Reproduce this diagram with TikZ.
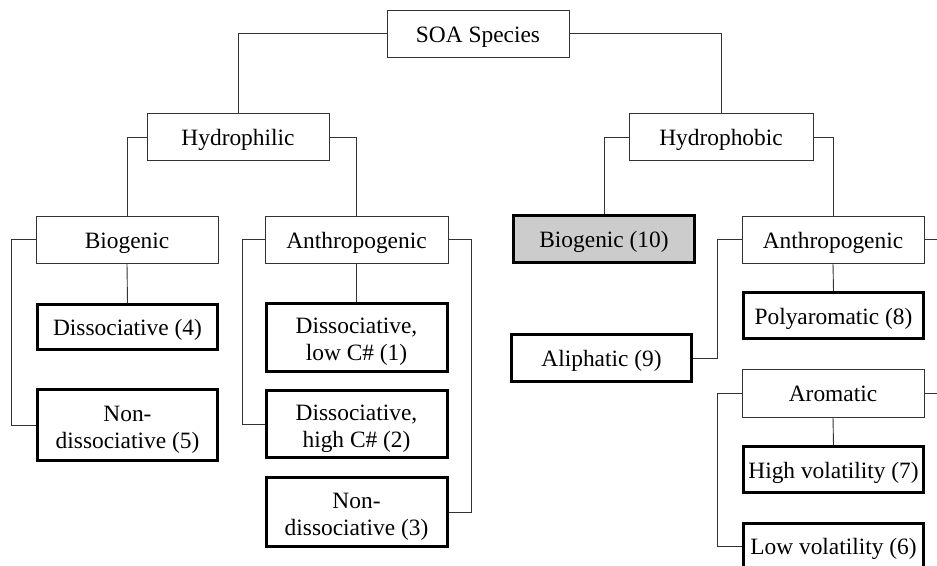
\documentclass[tikz,border=0pt]{standalone}
\usepackage{fontspec}
\setmainfont{Liberation Serif}
\begin{document}
\begin{tikzpicture}[x=1pt,y=-1pt,
  box/.style={draw=black!80, line width=0.8pt, rectangle, minimum width=182pt, minimum height=47pt, inner sep=0pt, align=center, text height=22.7pt, text depth=5.1pt, font=\fontsize{23.4}{27.4}\selectfont},
  leaf/.style={box, draw=black, line width=3pt, minimum width=180pt},
  twoline/.style={text height=52pt, text depth=5.1pt},
  conn/.style={draw=black!80, line width=0.9pt}]
\useasboundingbox (0,0) rectangle (937,565);
\clip (0,0) rectangle (937,565);
% level 0-1
\node[box] (soa) at (478,33.5) {SOA Species};
\node[box] (hphil) at (238,137) {Hydrophilic};
\node[box, minimum width=184pt] (hphob) at (721,137) {Hydrophobic};
% level 2
\node[box] (bioL) at (127,239.5) {Biogenic};
\node[box, minimum width=183pt] (anthL) at (356.5,239.5) {Anthropogenic};
\node[leaf, fill=gray!40, minimum width=181pt, minimum height=47pt] (bio10) at (604,239) {Biogenic (10)};
\node[box] (anthR) at (833,239.5) {Anthropogenic};
% hydrophilic leaves
\node[leaf, minimum height=45pt] (diss4) at (127.5,327) {Dissociative (4)};
\node[leaf, twoline, minimum height=71pt] (nondiss5) at (127.5,425) {Non-\\dissociative (5)};
\node[leaf, twoline, minimum width=181pt, minimum height=68pt] (diss1) at (356.5,337.5) {Dissociative,\\low C\# (1)};
\node[leaf, twoline, minimum width=181pt, minimum height=67pt] (diss2) at (356.5,424) {Dissociative,\\high C\# (2)};
\node[leaf, twoline, minimum width=181pt, minimum height=69pt] (nondiss3) at (356.5,512) {Non-\\dissociative (3)};
% hydrophobic leaves
\node[leaf, minimum height=47pt] (aliph9) at (601.5,358) {Aliphatic (9)};
\node[leaf, minimum height=46pt] (poly8) at (833.5,315.5) {Polyaromatic (8)};
\node[box, minimum height=48pt] (arom) at (833,393) {Aromatic};
\node[leaf, minimum height=46pt] (high7) at (833.5,469.5) {High volatility (7)};
\node[leaf, minimum height=46pt] (low6) at (833.5,546) {Low volatility (6)};
\coordinate (anthRout) at (937,239.5);
\coordinate (aromout) at (937,393);
% connectors
\draw[conn] (soa.west) -| (hphil.north);
\draw[conn] (soa.east) -| (hphob.north);
\draw[conn] (hphil.west) -| (bioL.north);
\draw[conn] (hphil.east) -| (anthL.north);
\draw[conn] (hphob.west) -| (bio10.north);
\draw[conn] (hphob.east) -| (anthR.north);
\draw[conn] (bioL.south) -- (diss4.north);
\draw[conn] (bioL.west) -- ++(-24,0) |- (nondiss5.west);
\draw[conn] (anthL.south) -- (diss1.north);
\draw[conn] (anthL.west) -- ++(-22,0) |- (diss2.west);
\draw[conn] (anthL.east) -- ++(23,0) |- (nondiss3.east);
\draw[conn] (anthR.south) -- (poly8.north);
\draw[conn] (anthR.west) -- ++(-24,0) |- (aliph9.east);
\draw[conn] (anthR.east) -- (anthRout);
\draw[conn] (arom.west) -- ++(-24,0) |- (low6.west);
\draw[conn] (arom.east) -- (aromout);
\draw[conn] (arom.south) -- (high7.north);
\end{tikzpicture}
\end{document}
